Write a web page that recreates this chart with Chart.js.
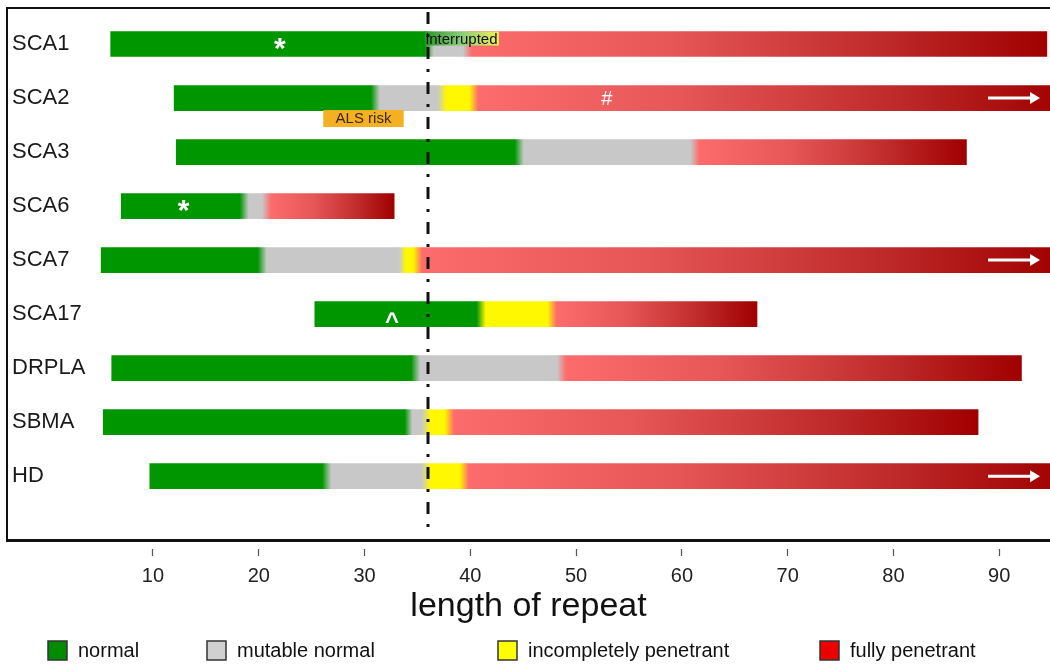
<!DOCTYPE html>
<html>
<head>
<meta charset="utf-8">
<script src="https://cdn.jsdelivr.net/npm/chart.js@4.4.1/dist/chart.umd.min.js"></script>
<style>
  html, body { margin: 0; padding: 0; background: #fff; }
  #wrap { width: 1050px; height: 664px; }
</style>
</head>
<body>
<div id="wrap"><canvas id="repeatChart"></canvas></div>
<script>
// repeat length ranges per gene, [from, to]
var genes = ['SCA1', 'SCA2', 'SCA3', 'SCA6', 'SCA7', 'SCA17', 'DRPLA', 'SBMA', 'HD'];
var normalRange = [[6, 35.7], [12, 30.6], [12.2, 44.2], [7, 18.2], [5.1, 19.9], [25.3, 40.6], [6.1, 34.4], [5.3, 33.8], [9.7, 26]];
var mutableRange = [[35.7, 39.3], [30.6, 36.9], [44.2, 60.8], [18.2, 20.3], [19.9, 33.3], null, [34.4, 48.2], [33.8, 35.4], [26, 35.4]];
var incompleteRange = [null, [36.9, 39.9], null, null, [33.3, 34.6], [40.6, 47.3], null, [35.4, 37.6], [35.4, 39]];
var fullRange = [[39.3, 94.5], [39.9, 96], [60.8, 86.9], [20.3, 32.8], [34.6, 96], [47.3, 67.1], [48.2, 92.1], [37.6, 88], [39, 96]];
var xTicks = [10, 20, 30, 40, 50, 60, 70, 80, 90];
var threshold = 36;

// little notes drawn on top of the bars
var markers = [
  { gene: 'SCA1', x: 22, text: '*' },
  { gene: 'SCA6', x: 12.9, text: '*' },
  { gene: 'SCA2', x: 52.9, text: '#' },
  { gene: 'SCA17', x: 32.6, text: '^' }
];
var interrupted = { gene: 'SCA1', from: 35.7, to: 42.7, text: 'interrupted' };
var alsRisk = { gene: 'SCA2', from: 26.1, to: 33.7, text: 'ALS risk' };

var green = 'rgb(0,150,0)';
var grey = 'rgb(200,200,200)';
var yellow = 'rgb(255,248,0)';
var redStops = [[0, 'rgb(253,108,108)'], [0.35, 'rgb(230,86,86)'], [0.7, 'rgb(192,44,44)'], [1, 'rgb(160,0,0)']];

var layers = [normalRange, mutableRange, incompleteRange, fullRange];
var layerColors = [green, grey, yellow, redStops[0][1]];

function toData(ranges) {
  return ranges.map(function (r, i) { return r ? { x: r, y: i } : null; }).filter(Boolean);
}

function prevColor(layer, gene) {
  for (var j = layer - 1; j >= 0; j--) {
    if (layers[j][gene]) return layerColors[j];
  }
  return null;
}

// gradient across each bar; soft edge from the segment before it
function segmentFill(layer, stops) {
  return function (ctx) {
    var chart = ctx.chart;
    var xs = chart.scales.x;
    var r = ctx.raw;
    if (!xs || !r || !chart.chartArea) return stops[0][1];
    var x0 = xs.getPixelForValue(r.x[0]);
    var x1 = xs.getPixelForValue(r.x[1]);
    var w = Math.max(1, x1 - x0);
    var g = chart.ctx.createLinearGradient(x0, 0, x1, 0);
    var prev = prevColor(layer, r.y);
    var f = prev ? Math.min(0.45, 9 / w) : 0;
    if (prev) g.addColorStop(0, prev);
    stops.forEach(function (s) { g.addColorStop(f + (1 - f) * s[0], s[1]); });
    return g;
  };
}

var overlayPlugin = {
  id: 'overlay',
  afterDatasetsDraw: function (chart) {
    var c = chart.ctx, xs = chart.scales.x, ys = chart.scales.y, area = chart.chartArea;
    var rowY = function (g) { return ys.getPixelForValue(genes.indexOf(g)); };
    c.save();

    // "interrupted" label over the top half of SCA1
    var iy = rowY(interrupted.gene) - 12.5;
    var ix0 = xs.getPixelForValue(interrupted.from), ix1 = xs.getPixelForValue(interrupted.to);
    var ig = c.createLinearGradient(ix0, 0, ix1, 0);
    ig.addColorStop(0, 'rgb(40,150,40)');
    ig.addColorStop(0.5, 'rgb(140,205,120)');
    ig.addColorStop(1, 'rgb(240,240,90)');
    c.fillStyle = ig;
    c.fillRect(ix0, iy, ix1 - ix0, 14);
    c.fillStyle = '#111';
    c.font = '15px "Liberation Sans", Arial, sans-serif';
    c.textAlign = 'left';
    c.textBaseline = 'alphabetic';
    c.fillText(interrupted.text, ix0 + 1, iy + 12);

    // ALS risk box below SCA2
    var ay = rowY(alsRisk.gene) + 12;
    var ax0 = xs.getPixelForValue(alsRisk.from), ax1 = xs.getPixelForValue(alsRisk.to);
    c.fillStyle = 'rgb(242,176,34)';
    c.fillRect(ax0, ay, ax1 - ax0, 17);
    c.fillStyle = '#3a2a00';
    c.font = '15px "Liberation Sans", Arial, sans-serif';
    c.textAlign = 'center';
    c.textBaseline = 'middle';
    c.fillText(alsRisk.text, (ax0 + ax1) / 2, ay + 9);

    // white symbols inside bars
    c.fillStyle = '#fff';
    markers.forEach(function (m) {
      var x = xs.getPixelForValue(m.x), y = rowY(m.gene);
      c.textAlign = 'center';
      c.textBaseline = 'alphabetic';
      if (m.text === '*') {
        c.font = 'bold 30px "Liberation Sans", Arial, sans-serif';
        c.fillText(m.text, x, y + 14);
      } else if (m.text === '^') {
        c.font = 'bold 24px "Liberation Sans", Arial, sans-serif';
        c.fillText(m.text, x, y + 15);
      } else {
        c.font = '20px "Liberation Sans", Arial, sans-serif';
        c.fillText(m.text, x, y + 7);
      }
    });

    // arrows where the range runs off the axis
    c.strokeStyle = '#fff';
    c.lineWidth = 3;
    fullRange.forEach(function (r, i) {
      if (!r || r[1] <= xs.max) return;
      var y = ys.getPixelForValue(i);
      var xa = area.right - 62, xb = area.right - 10;
      c.beginPath();
      c.moveTo(xa, y);
      c.lineTo(xb - 8, y);
      c.stroke();
      c.beginPath();
      c.moveTo(xb - 10, y - 6);
      c.lineTo(xb, y);
      c.lineTo(xb - 10, y + 6);
      c.closePath();
      c.fill();
    });

    // threshold line
    var tx = xs.getPixelForValue(threshold);
    c.strokeStyle = '#111';
    c.lineWidth = 3;
    c.setLineDash([12, 10, 3, 10]);
    c.beginPath();
    c.moveTo(tx, area.top + 4);
    c.lineTo(tx, area.bottom - 10);
    c.stroke();
    c.setLineDash([]);

    // top frame line
    c.lineWidth = 2;
    c.beginPath();
    c.moveTo(area.left - 1, area.top);
    c.lineTo(area.right, area.top);
    c.stroke();
    c.restore();
  },
  afterDraw: function (chart) {
    // legend row at the bottom
    var c = chart.ctx;
    var boxX = [48, 207, 498, 820];
    var swatch = ['rgb(0,140,0)', 'rgb(208,208,208)', 'rgb(255,255,0)', 'rgb(236,0,0)'];
    c.save();
    c.font = '20px "Liberation Sans", Arial, sans-serif';
    c.textAlign = 'left';
    c.textBaseline = 'middle';
    chart.data.datasets.forEach(function (ds, i) {
      c.fillStyle = swatch[i];
      c.fillRect(boxX[i], 641, 19, 19);
      c.strokeStyle = '#333';
      c.lineWidth = 1.5;
      c.strokeRect(boxX[i], 641, 19, 19);
      c.fillStyle = '#111';
      c.fillText(ds.label, boxX[i] + 30, 651);
    });
    c.restore();
  }
};

new Chart(document.getElementById('repeatChart'), {
  type: 'bar',
  data: {
    datasets: [
      { label: 'normal', data: toData(normalRange), backgroundColor: segmentFill(0, [[0, green], [1, green]]) },
      { label: 'mutable normal', data: toData(mutableRange), backgroundColor: segmentFill(1, [[0, grey], [1, grey]]) },
      { label: 'incompletely penetrant', data: toData(incompleteRange), backgroundColor: segmentFill(2, [[0, yellow], [1, yellow]]) },
      { label: 'fully penetrant', data: toData(fullRange), backgroundColor: segmentFill(3, redStops) }
    ]
  },
  options: {
    indexAxis: 'y',
    responsive: true,
    maintainAspectRatio: false,
    animation: false,
    layout: { padding: { left: 7, top: 8, right: 0, bottom: 48 } },
    datasets: {
      bar: { barThickness: 25, grouped: false, borderWidth: 0, clip: 0 }
    },
    scales: {
      x: {
        type: 'linear',
        min: -3.8,
        max: 94.8,
        afterBuildTicks: function (axis) {
          axis.ticks = xTicks.map(function (v) { return { value: v }; });
        },
        ticks: { color: '#222', padding: 11, font: { family: '"Liberation Sans", Arial, sans-serif', size: 20, lineHeight: 1 } },
        grid: { drawOnChartArea: false, drawTicks: true, tickLength: 15, tickColor: '#555', tickWidth: 1.2, tickBorderDash: [0, 7, 8, 100] },
        border: { display: true, color: '#111', width: 3 },
        title: {
          display: true,
          text: 'length of repeat',
          color: '#111',
          padding: { top: 0, bottom: 0 },
          font: { family: '"Liberation Sans", Arial, sans-serif', size: 34, lineHeight: 0.53 }
        }
      },
      y: {
        type: 'linear',
        reverse: true,
        min: -0.667,
        max: 9.2,
        offset: false,
        afterBuildTicks: function (axis) {
          axis.ticks = genes.map(function (g, i) { return { value: i }; });
        },
        afterFit: function (axis) {
          // labels sit inside the frame, so the axis takes no room
          axis.width = 0;
          axis.paddingTop = 0;
          axis.paddingBottom = 0;
        },
        ticks: {
          mirror: true,
          padding: 5,
          color: '#1a1a1a',
          font: { family: '"Liberation Sans", Arial, sans-serif', size: 22 },
          callback: function (value) { return genes[value]; }
        },
        grid: { display: false, offset: false },
        border: { display: true, color: '#111', width: 2 }
      }
    },
    plugins: {
      legend: { display: false },
      tooltip: { enabled: false }
    }
  },
  plugins: [overlayPlugin]
});
</script>
</body>
</html>
